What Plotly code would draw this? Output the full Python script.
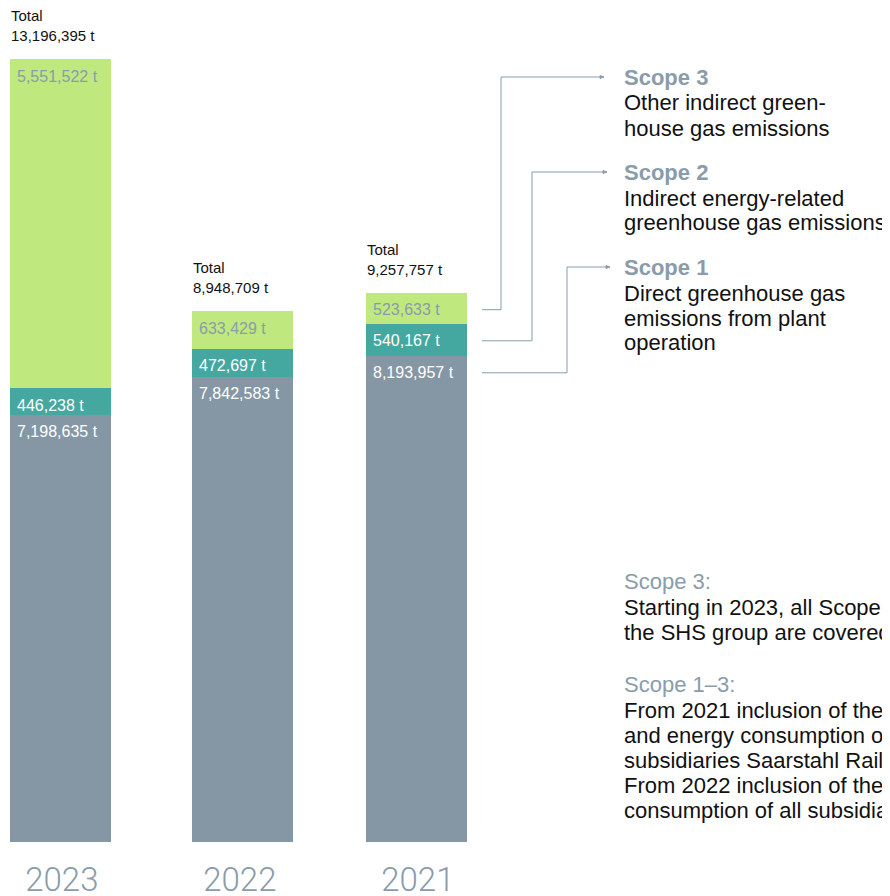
import plotly.graph_objects as go

# ---------------- data ----------------
years = ["2023", "2022", "2021"]
scope1 = [7198635, 7842583, 8193957]
scope2 = [446238, 472697, 540167]
scope3 = [5551522, 633429, 523633]
totals = [13196395, 8948709, 9257757]

legend_headings = ["Scope 3", "Scope 2", "Scope 1"]
legend_texts = [
    ["Other indirect green-", "house gas emissions"],
    ["Indirect energy-related", "greenhouse gas emissions"],
    ["Direct greenhouse gas", "emissions from plant", "operation"],
]
note_headings = ["Scope 3:", "Scope 1\u20133:"]
note_texts = [
    ["Starting in 2023, all Scope 3 emissions of", "the SHS group are covered."],
    ["From 2021 inclusion of the emissions",
     "and energy consumption of the",
     "subsidiaries Saarstahl Rail and others.",
     "From 2022 inclusion of the energy",
     "consumption of all subsidiaries."],
]

# ---------------- style ----------------
OX, OY = 8, 8            # page body margin offset
W, H = 890 - OX, 896 - OY
PLOT_BOTTOM = 842        # page px of bar baseline
PH = PLOT_BOTTOM - OY
MB = H - PH
YMAX = 14.056e6
C0, DC = 61.83, 178.0    # page px of first category centre, px per category
XR = [(OX - C0) / DC, (890 - C0) / DC]
BAR_W = 0.567
BAR_PX = BAR_W * DC
BAR_NUDGE_PX = [-1.3, 2.7, -1.3]   # fine horizontal nudge of each bar (px)
offsets = [-BAR_W / 2 + d / DC for d in BAR_NUDGE_PX]

C_GREY = "#8597a5"
C_TEAL = "#44a8a1"
C_GREEN = "#bfe97e"
C_TXT_GREY = "#8a9caa"
C_LINE = "#8a9caa"
C_BLACK = "#111111"
FONT = "Liberation Sans, Arial, sans-serif"


def py2paper(py):
    return 1 - (py - OY) / PH


def px2paper(px):
    return (px - OX) / W


fig = go.Figure()
series = [(scope1, C_GREY, "white"), (scope2, C_TEAL, "white"), (scope3, C_GREEN, C_TXT_GREY)]
for vals, col, _ in series:
    fig.add_trace(go.Bar(x=years, y=vals, width=BAR_W, offset=offsets,
                         marker=dict(color=col, line=dict(width=0)),
                         hoverinfo="skip", showlegend=False))

ann = []
LABEL_OFF = 17
for i, yr in enumerate(years):
    base = 0
    left = -BAR_PX / 2 + BAR_NUDGE_PX[i]
    for vals, col, tcol in series:
        top = base + vals[i]
        ann.append(dict(x=i, y=top, xref="x", yref="y", text=f"{vals[i]:,} t",
                        showarrow=False, xanchor="left", yanchor="middle",
                        xshift=left + 5, yshift=-LABEL_OFF,
                        font=dict(family=FONT, size=16, color=tcol)))
        base = top
    ann.append(dict(x=i, y=totals[i], xref="x", yref="y", text=f"Total<br>{totals[i]:,} t",
                    showarrow=False, xanchor="left", yanchor="bottom", align="left",
                    xshift=left - 1, yshift=13,
                    font=dict(family=FONT, size=15, color=C_BLACK)))

# legend text on the right
TX = 622
head_y = [77, 172, 267]
for hy, h, lines in zip(head_y, legend_headings, legend_texts):
    ann.append(dict(x=px2paper(TX), y=py2paper(hy), xref="paper", yref="paper", text=f"<b>{h}</b>",
                    showarrow=False, xanchor="left", yanchor="middle",
                    font=dict(family=FONT, size=22, color=C_TXT_GREY)))
    for j, ln in enumerate(lines):
        ann.append(dict(x=px2paper(TX), y=py2paper(hy + 26 + 25 * j), xref="paper", yref="paper", text=ln,
                        showarrow=False, xanchor="left", yanchor="middle",
                        font=dict(family=FONT, size=22, color=C_BLACK)))

note_y = [581, 684]
for ny, h, lines in zip(note_y, note_headings, note_texts):
    ann.append(dict(x=px2paper(TX), y=py2paper(ny), xref="paper", yref="paper", text=h,
                    showarrow=False, xanchor="left", yanchor="middle",
                    font=dict(family=FONT, size=22, color=C_TXT_GREY)))
    for j, ln in enumerate(lines):
        ann.append(dict(x=px2paper(TX), y=py2paper(ny + 26 + 25 * j), xref="paper", yref="paper", text=ln,
                        showarrow=False, xanchor="left", yanchor="middle",
                        font=dict(family=FONT, size=22, color=C_BLACK)))

# connector lines from the 2021 bar segments to the legend headings
shapes = []
i21 = years.index("2021")
tops21 = [scope1[i21] + scope2[i21] + scope3[i21], scope1[i21] + scope2[i21], scope1[i21]]
elbow_x = [501, 532, 567]
end_x = [600, 603, 606]
START_X = 482
for top, hy, ex, endx in zip(tops21, head_y, elbow_x, end_x):
    y0 = top / YMAX - LABEL_OFF / PH
    y1 = py2paper(hy)
    x0, xe, x2 = px2paper(START_X), px2paper(ex), px2paper(endx)
    shapes.append(dict(type="path", xref="paper", yref="paper",
                       path=f"M {x0} {y0} L {xe} {y0} L {xe} {y1} L {x2} {y1}",
                       line=dict(color=C_LINE, width=1)))
    ah = 1.5 / PH
    shapes.append(dict(type="path", xref="paper", yref="paper",
                       path=f"M {x2} {y1 - ah} L {x2 + 4 / W} {y1} L {x2} {y1 + ah} Z",
                       line=dict(color=C_LINE, width=1), fillcolor=C_LINE))

fig.update_layout(
    width=W, height=H,
    margin=dict(l=0, r=0, t=0, b=MB, pad=0, autoexpand=False),
    barmode="stack",
    plot_bgcolor="white", paper_bgcolor="white",
    xaxis=dict(type="category", range=XR, showgrid=False, zeroline=False, showline=False, ticks="",
               automargin=False,
               tickfont=dict(family="Roboto, Liberation Sans, sans-serif", size=33, color=C_TXT_GREY, weight=300),
               ticklabelstandoff=15, fixedrange=True),
    yaxis=dict(range=[0, YMAX], visible=False, fixedrange=True, automargin=False),
    annotations=ann,
    shapes=shapes,
)

fig.write_html("out.html", config={"displayModeBar": False})
